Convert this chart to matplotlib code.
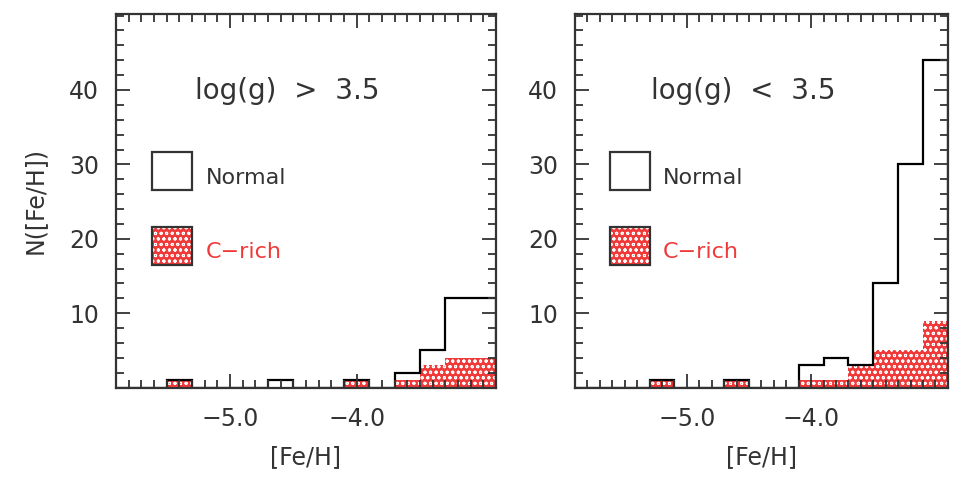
import numpy as np
import matplotlib
matplotlib.use("Agg")
from matplotlib import pyplot as plt
from matplotlib.patches import Rectangle
from matplotlib.ticker import MultipleLocator, FixedLocator

plt.rcParams['font.family'] = 'DejaVu Sans'
plt.rcParams['hatch.linewidth'] = 0.7

# 0.2 dex bins in [Fe/H]
edges = np.round(np.arange(-5.9, -2.89, 0.2), 2)

# log(g) > 3.5 (dwarfs)
dwarf_all = [0, 0, 1, 0, 0, 0, 1, 0, 0, 1, 0, 2, 5, 12, 12]
dwarf_crich = [0, 0, 1, 0, 0, 0, 0, 0, 0, 1, 0, 1, 3, 4, 4]

# log(g) < 3.5 (giants)
giant_all = [0, 0, 0, 1, 0, 0, 1, 0, 0, 3, 4, 3, 14, 30, 44]
giant_crich = [0, 0, 0, 1, 0, 0, 1, 0, 0, 1, 1, 3, 5, 5, 9]

titles = ['log(g)  >  3.5', 'log(g)  <  3.5']
xtick_vals = [-5.0, -4.0]
xtick_names = ['\u22125.0', '\u22124.0']
ytick_vals = [10, 20, 30, 40]

RED = '#f03a3a'
GRAY = '#333333'
FS = 17


def panel(ax, allstars, crich, title, ylabel=False):
    ax.bar(edges[:-1], crich, width=0.2, align='edge', color=RED,
           edgecolor='white', hatch='ooo', linewidth=0)
    ax.stairs(allstars, edges, color='black', lw=1.6)
    ax.set_xlim(-5.9, -2.9)
    ax.set_ylim(0, 50.2)

    ax.xaxis.set_major_locator(FixedLocator(xtick_vals))
    ax.set_xticklabels(xtick_names)
    ax.xaxis.set_minor_locator(MultipleLocator(0.1))
    ax.yaxis.set_major_locator(FixedLocator(ytick_vals))
    ax.yaxis.set_minor_locator(MultipleLocator(2))
    ax.tick_params(which='both', direction='in', top=True, right=True,
                   width=1.3, color=GRAY, labelsize=FS, labelcolor=GRAY)
    ax.tick_params(axis='x', which='major', length=10, pad=14)
    ax.tick_params(axis='y', which='major', length=10, pad=12)
    ax.tick_params(which='minor', length=5.5)
    for s in ax.spines.values():
        s.set_linewidth(1.6)
        s.set_color(GRAY)

    ax.text(-4.55, 39.8, title, ha='center', va='center', fontsize=FS + 3,
            color=GRAY)
    # legend boxes
    ax.add_patch(Rectangle((-5.615, 26.6), 0.315, 5.1, facecolor='white',
                           edgecolor=GRAY, lw=1.6))
    ax.text(-5.19, 28.2, 'Normal', ha='left', va='center', fontsize=FS - 1,
            color=GRAY)
    ax.add_patch(Rectangle((-5.615, 16.5), 0.315, 5.1, facecolor=RED,
                           edgecolor='white', hatch='ooo', lw=0))
    ax.add_patch(Rectangle((-5.615, 16.5), 0.315, 5.1, facecolor='none',
                           edgecolor=GRAY, lw=1.6))
    ax.text(-5.19, 18.2, 'C\u2212rich', ha='left', va='center',
            fontsize=FS - 1, color=RED)

    ax.set_xlabel('[Fe/H]', fontsize=FS, color=GRAY, labelpad=10)
    if ylabel:
        ax.set_ylabel('N([Fe/H])', fontsize=FS, color=GRAY, labelpad=16)


fig = plt.figure(figsize=(9.61, 4.78), dpi=100)
ax1 = fig.add_axes([0.1207, 0.189, 0.3954, 0.7816])
ax2 = fig.add_axes([0.5983, 0.189, 0.388, 0.7816])

panel(ax1, dwarf_all, dwarf_crich, titles[0], ylabel=True)
panel(ax2, giant_all, giant_crich, titles[1])

fig.savefig('out.png', dpi=100)
